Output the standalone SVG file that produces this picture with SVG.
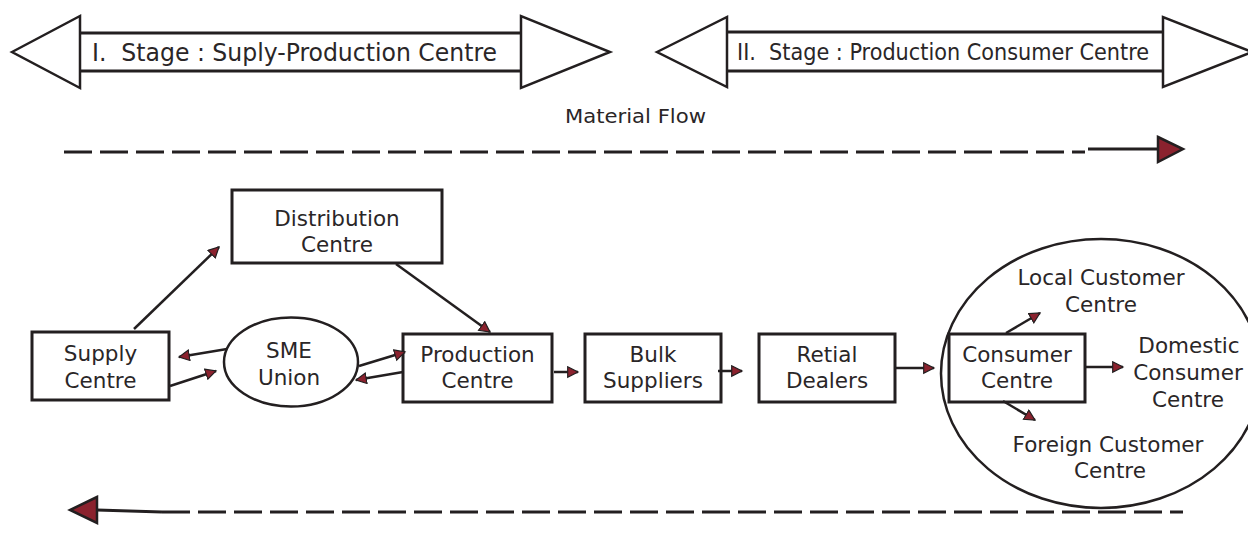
<svg xmlns="http://www.w3.org/2000/svg" width="1248" height="550" viewBox="0 0 1248 550">
  <style>
    .bg { fill: #ffffff; }
    .box { fill: #ffffff; stroke: #231f20; stroke-width: 3; }
    .oval { fill: #ffffff; stroke: #231f20; stroke-width: 2.5; }
    .band { fill: none; stroke: #231f20; stroke-width: 3; }
    .head { fill: #ffffff; stroke: #231f20; stroke-width: 2.5; stroke-linejoin: miter; }
    .lbl { font-family: "DejaVu Sans", "Liberation Sans", sans-serif; font-size: 21.5px; fill: #2a2627; text-anchor: middle; }
    .stage { font-family: "DejaVu Sans Condensed", "DejaVu Sans", "Liberation Sans", sans-serif; fill: #2a2627; }
    .conn { fill: none; stroke: #231f20; stroke-width: 2.5; }
    .flow { fill: none; stroke: #231f20; stroke-width: 3; }
    .dash { stroke-dasharray: 28 8; }
    .bighead { fill: #8b222e; stroke: #231f20; stroke-width: 2.5; stroke-linejoin: miter; }
  </style>
  <defs>
    <marker id="arr" markerUnits="userSpaceOnUse" markerWidth="14" markerHeight="14" refX="11" refY="6" orient="auto">
      <path d="M0.7,0.7 L11,6 L0.7,11.3 z" fill="#8b222e" stroke="#231f20" stroke-width="1.2"/>
    </marker>
  </defs>

  <rect class="bg" x="0" y="0" width="1248" height="550"/>

  <!-- stage I banner -->
  <g id="stage1">
    <polygon class="head" points="12,52 80,16 80,88"/>
    <polygon class="head" points="521,16 521,88 610,52"/>
    <line class="band" x1="81" y1="33" x2="520" y2="33"/>
    <line class="band" x1="81" y1="71" x2="520" y2="71"/>
    <text class="stage" x="92" y="61" font-size="25" textLength="405" lengthAdjust="spacingAndGlyphs">I.&#160; Stage : Suply-Production Centre</text>
  </g>

  <!-- stage II banner -->
  <g id="stage2">
    <polygon class="head" points="657,52 727,17 727,87"/>
    <polygon class="head" points="1163,17 1163,87 1252,52"/>
    <line class="band" x1="728" y1="32" x2="1162" y2="32"/>
    <line class="band" x1="728" y1="71" x2="1162" y2="71"/>
    <text class="stage" x="737" y="60" font-size="23" textLength="412" lengthAdjust="spacingAndGlyphs">II.&#160; Stage : Production Consumer Centre</text>
  </g>

  <!-- material flow caption and the two flow lines -->
  <g id="material-flow">
    <text class="stage" x="565" y="123" font-size="20" textLength="141" lengthAdjust="spacingAndGlyphs">Material Flow</text>
    <line class="flow dash" x1="64" y1="152" x2="1085" y2="152"/>
    <line class="flow" x1="1088" y1="149" x2="1158" y2="149"/>
    <polygon class="bighead" points="1158,137 1183,149 1158,162"/>
    <line class="flow dash" x1="162" y1="512" x2="1183" y2="512"/>
    <line class="flow" x1="97" y1="510" x2="162" y2="512"/>
    <polygon class="bighead" points="97,497 70,510 97,523"/>
  </g>

  <!-- nodes -->
  <g id="distribution">
    <rect class="box" x="232" y="190" width="210" height="73"/>
    <text class="lbl" x="337" y="226">Distribution</text>
    <text class="lbl" x="337" y="252">Centre</text>
  </g>
  <g id="supply">
    <rect class="box" x="32" y="332" width="137" height="68"/>
    <text class="lbl" x="100.5" y="361">Supply</text>
    <text class="lbl" x="100.5" y="388">Centre</text>
  </g>
  <g id="sme-union">
    <ellipse class="oval" cx="291" cy="362" rx="67" ry="44.5"/>
    <text class="lbl" x="289" y="358">SME</text>
    <text class="lbl" x="289" y="385">Union</text>
  </g>
  <g id="production">
    <rect class="box" x="403" y="334" width="149" height="68"/>
    <text class="lbl" x="477.5" y="362">Production</text>
    <text class="lbl" x="477.5" y="388">Centre</text>
  </g>
  <g id="bulk">
    <rect class="box" x="585" y="334" width="136" height="68"/>
    <text class="lbl" x="653" y="362">Bulk</text>
    <text class="lbl" x="653" y="388">Suppliers</text>
  </g>
  <g id="retail">
    <rect class="box" x="759" y="334" width="136" height="68"/>
    <text class="lbl" x="827" y="362">Retial</text>
    <text class="lbl" x="827" y="388">Dealers</text>
  </g>
  <g id="customer-area">
    <ellipse class="oval" cx="1101" cy="373.5" rx="160" ry="134.5"/>
  </g>
  <g id="consumer">
    <rect class="box" x="949" y="334" width="136" height="68"/>
    <text class="lbl" x="1017" y="362">Consumer</text>
    <text class="lbl" x="1017" y="388">Centre</text>
  </g>
  <g id="local">
    <text class="lbl" x="1101" y="285">Local Customer</text>
    <text class="lbl" x="1101" y="312">Centre</text>
  </g>
  <g id="domestic">
    <text class="lbl" x="1189" y="353">Domestic</text>
    <text class="lbl" x="1188" y="380">Consumer</text>
    <text class="lbl" x="1188" y="407">Centre</text>
  </g>
  <g id="foreign">
    <text class="lbl" x="1108" y="452">Foreign Customer</text>
    <text class="lbl" x="1110" y="478">Centre</text>
  </g>

  <!-- connectors -->
  <g id="connectors">
    <line class="conn" x1="134" y1="329" x2="219" y2="247" marker-end="url(#arr)"/>
    <line class="conn" x1="396" y1="264" x2="490" y2="332" marker-end="url(#arr)"/>
    <line class="conn" x1="227" y1="349" x2="179" y2="357" marker-end="url(#arr)"/>
    <line class="conn" x1="170" y1="386" x2="216" y2="371" marker-end="url(#arr)"/>
    <line class="conn" x1="359" y1="366" x2="405" y2="352" marker-end="url(#arr)"/>
    <line class="conn" x1="403" y1="372" x2="356" y2="380" marker-end="url(#arr)"/>
    <line class="conn" x1="554" y1="372" x2="578" y2="372" marker-end="url(#arr)"/>
    <line class="conn" x1="718" y1="371" x2="742" y2="371" marker-end="url(#arr)"/>
    <line class="conn" x1="895" y1="368" x2="934" y2="368" marker-end="url(#arr)"/>
    <line class="conn" x1="1085" y1="367" x2="1123" y2="367" marker-end="url(#arr)"/>
    <line class="conn" x1="1006" y1="333" x2="1040" y2="313" marker-end="url(#arr)"/>
    <line class="conn" x1="1003" y1="401" x2="1035" y2="420" marker-end="url(#arr)"/>
  </g>
</svg>
